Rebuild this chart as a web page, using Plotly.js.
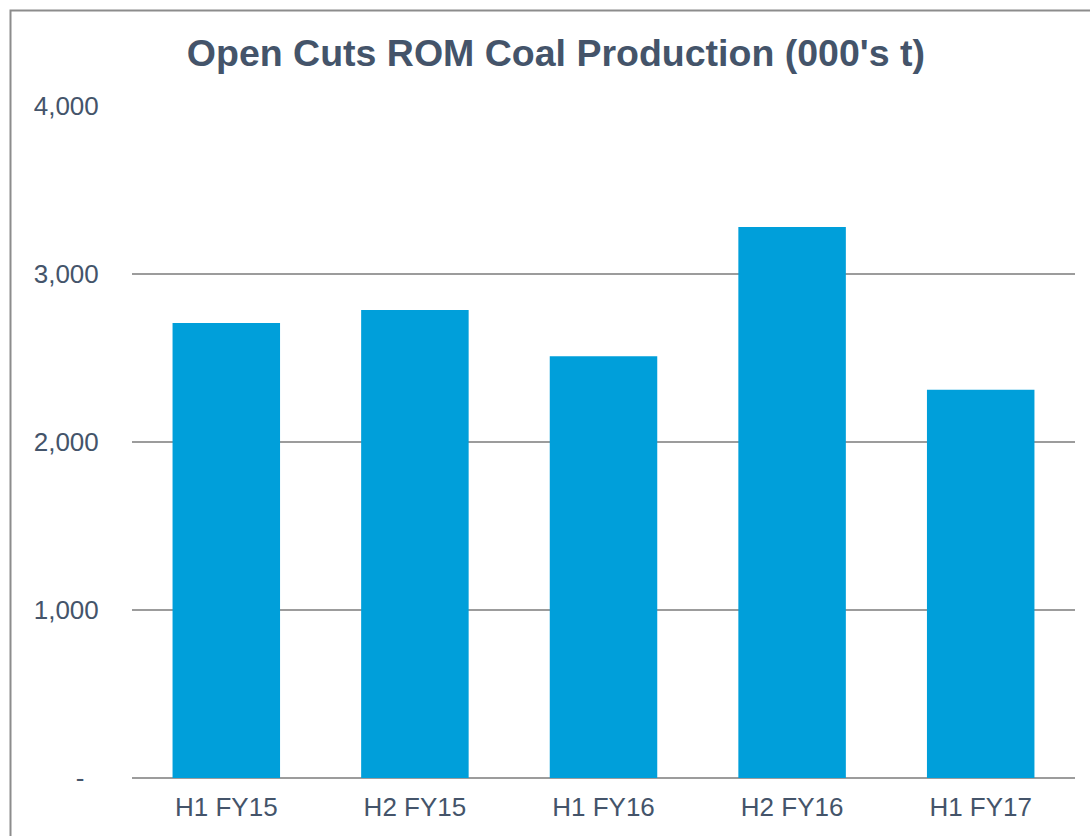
<!DOCTYPE html>
<html>
<head>
<meta charset="utf-8">
<script src="https://cdn.plot.ly/plotly-3.0.1.min.js"></script>
<style>
html,body{margin:0;padding:0;background:#fff;}
#chart{width:1090px;height:836px;}
</style>
</head>
<body>
<div id="chart"></div>
<script>
const categories = ["H1 FY15", "H2 FY15", "H1 FY16", "H2 FY16", "H1 FY17"];
const production = [2708, 2786, 2510, 3280, 2311];
const yTickVals = [0, 1000, 2000, 3000, 4000];
const yTickText = ["-\u00a0\u00a0", "1,000", "2,000", "3,000", "4,000"];

const textColor = "#44546a";

const trace = {
  type: "bar",
  x: categories,
  y: production,
  marker: { color: "#009fda", line: { width: 0 } },
  width: 0.57,
  hoverinfo: "x+y"
};

const layout = {
  width: 1090,
  height: 836,
  margin: { l: 132, r: 15, t: 106, b: 58, pad: 0 },
  paper_bgcolor: "#ffffff",
  plot_bgcolor: "#ffffff",
  showlegend: false,
  font: { family: "Liberation Sans, Arial, sans-serif", color: textColor, size: 26 },
  title: {
    text: "<b>Open Cuts ROM Coal Production (000's t)</b>",
    font: { family: "Liberation Sans, Arial, sans-serif", size: 37.5, color: textColor },
    xref: "container",
    x: 0.51,
    xanchor: "center",
    yref: "container",
    y: 0.937,
    yanchor: "middle"
  },
  xaxis: {
    type: "category",
    showgrid: false,
    showline: false,
    zeroline: false,
    ticks: "outside",
    ticklen: 6,
    tickcolor: "rgba(0,0,0,0)",
    tickfont: { size: 26, color: textColor }
  },
  yaxis: {
    range: [0, 4000],
    tickvals: yTickVals,
    ticktext: yTickText,
    showgrid: true,
    gridcolor: "#9c9c9c",
    gridwidth: 2,
    zeroline: true,
    zerolinecolor: "#9c9c9c",
    zerolinewidth: 2,
    showline: false,
    ticks: "outside",
    ticklen: 27,
    tickcolor: "rgba(0,0,0,0)",
    tickfont: { size: 26, color: textColor },
    fixedrange: true
  },
  shapes: [{
    type: "rect",
    xref: "paper",
    yref: "paper",
    x0: (10.5 - 132) / 943,
    x1: (1100 - 132) / 943,
    y0: (778 - 850) / 672,
    y1: (778 - 10.5) / 672,
    line: { color: "#8c8c8c", width: 2 },
    fillcolor: "rgba(0,0,0,0)",
    layer: "below"
  }]
};

Plotly.newPlot("chart", [trace], layout, { displayModeBar: false, staticPlot: true });
</script>
</body>
</html>
